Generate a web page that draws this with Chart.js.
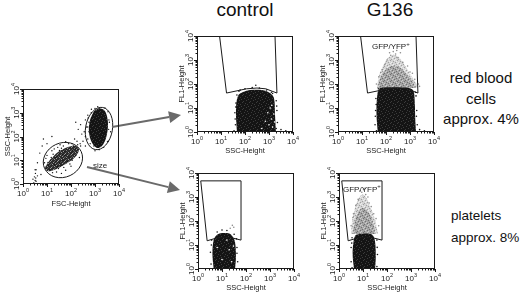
<!DOCTYPE html>
<html>
<head>
<meta charset="utf-8">
<title>flow cytometry panels</title>
<script src="https://cdn.jsdelivr.net/npm/chart.js@4.4.1/dist/chart.umd.min.js"></script>
<style>
  body { margin: 0; width: 520px; height: 293px; position: relative; overflow: hidden; background: #fff;
         font-family: 'Liberation Sans', Arial, sans-serif; color: #111; }
  canvas { position: absolute; }
  .lbl { position: absolute; white-space: nowrap; }
</style>
</head>
<body>
<div class="lbl" style="left:205px;top:0;width:80px;text-align:center;font-size:19px;line-height:19px;">control</div>
<div class="lbl" style="left:350px;top:0;width:80px;text-align:center;font-size:19px;line-height:19px;">G136</div>
<div class="lbl" style="left:436px;top:68px;width:90px;text-align:center;font-size:15px;line-height:20.5px;">red blood<br>cells<br>approx. 4%</div>
<div class="lbl" style="left:451px;top:205px;font-size:13.5px;line-height:22px;">platelets<br>approx. 8%</div>
<script>
const FONT = "'Liberation Sans', Arial, sans-serif";
const decades = [1, 10, 100, 1000, 10000];
const minorSteps = [2, 3, 4, 5, 6, 7, 8, 9];

// ---- left panel: FSC-Height vs SSC-Height ----
const fscRbcCore = [[1480,1580],[2370,1320],[3160,720],[3470,275],[2880,87],[1950,40],[1200,33],[750,54],[560,155],[620,490],[910,1180]];
const fscPltCore = [[13,10],[29,22],[75,36],[161,40],[215,27],[133,12],[51,6.3],[19.5,3.9],[10,3.5],[8.3,5.2]];
const fscEvents = [[7.9,7.9],[10,16],[13,4],[16,25],[20,6.3],[22,13],[25,3.2],[32,20],[35,7.9],[40,32],[50,5],[56,16],
  [63,28],[71,8.9],[79,50],[100,20],[112,10],[126,40],[158,16],[178,63],[200,28],[251,40],[100,5.6],[40,2.8],[14,10],
  [8.9,4.5],[28,35],[45,10],[141,79],[224,13],[9,12],[12,6],[17,3],[30,4.5],[60,3.8],[90,7],[180,22],[240,50],[110,50],
  [35,45],[20,30],[60,60],[150,30],[26,14],[70,22],[45,18],[11,8],[18,18],[24,9],[33,26],[48,40],[85,14],[120,25],
  [190,45],[66,12],[38,6],[15,13],[27,5.5],[95,33],[55,24],
  [316,63],[398,100],[355,158],[501,79],[447,251],[282,126],[251,316],[562,158],[200,200],[631,50],[158,398],[398,40],
  [5,20],[6.3,40],[4,7.9],[5.6,2.5],[7.1,79],[10,50],[16,100],[3.5,4],
  [2.8,1.1],[3.2,1.4],[3,2],[3.3,2.8],[3.2,4],[3.5,1.3],[2.6,1.6],[4,2.2],[2.9,1.05],[3.4,1.8],
  [501,794],[708,1410],[3980,398],[3550,63],[1000,25],[562,398],[4470,158],[398,501],
  [1000,1500],[1300,1800],[2600,1600],[3500,1100],[3800,500],[3700,200],[3300,60],[2300,35],[1500,28],[900,40],
  [650,90],[500,250],[520,600],[700,1000]];
const fscGates = [{x: 1470, y: 217, rx: 0.56, ry: 0.9, rot: 10}, {x: 46, y: 10.2, rx: 0.84, ry: 0.72, rot: -25}];

// ---- gates on FL1 vs SSC ----
const rbcGate = [[8.7,10000],[17,42],[115,63],[316,68],[740,63],[2140,42],[1780,10000],[8.7,10000]];
const pltGate = [[1.3,4700],[2.4,15],[7.5,21],[21,21],[62,16],[62,4700],[1.3,4700]];

// ---- red blood cells, control ----
const ctlRbcCore = [[46,1],[42,8.3],[51,32],[83,46],[161,56],[510,56],[1100,42],[1610,26],[1780,5.1],[1950,1]];
const ctlRbcEdge = [[40,2],[38,6.3],[42,16],[46,35],[63,56],[100,63],[200,71],[398,68],[794,56],[1410,40],[2000,20],
  [2140,7.9],[2240,2.5],[2000,1.4],[3160,1.26],[5010,1.12],[282,89],[35,1.12],[39,3.5],[41,11],[56,50],[1260,45],[2100,12]];
const ctlRbcGaps = [[1000,2],[1260,3.5],[891,6.3],[1410,1.6],[1120,10],[708,2.8],[1580,5.6],[501,1.4],[1700,2.6],[1300,13]];

// ---- red blood cells, G136 ----
const g136RbcCore = [[45,1],[40,6.3],[43,32],[52,63],[79,71],[398,71],[1000,66],[1410,50],[1580,16],[1660,3.2],[1780,1]];
const g136RbcEdge = [[35,2],[37,7.9],[38,25],[48,63],[1780,32],[1910,7.9],[2000,2],[2510,1.26],[3980,1.12],[40,1.12],
  [36,4.5],[39,14],[1700,45],[1850,4.5]];
const g136RbcGfpOuter = [[42,68],[50,200],[71,501],[112,1120],[200,1660],[355,1260],[631,562],[1120,224],[2000,89],[2240,68]];
const g136RbcGfpInner = [[46,68],[56,158],[89,355],[178,562],[355,501],[708,251],[1260,126],[1780,68]];
const g136RbcGfpDots = [[158,1580],[251,1780],[316,1260],[112,1000],[501,794],[71,398],[1000,316],[1580,158],[50,200],
  [794,562],[200,2240],[40,100],[2240,100],[398,2000],[141,2000],[280,2500],[89,630],[1260,280],[2500,80],[60,300]];

// ---- platelets, control ----
const ctlPltCore = [[4.5,1],[4,4],[4.3,13],[5.2,22],[7.9,30],[13,32],[20,30],[28,22],[35,13],[38,3.2],[35,1]];
const ctlPltEdge = [[3.5,1.6],[3.3,5],[3.7,16],[6.3,35],[16,40],[32,28],[42,7.9],[45,2],[10,42],[3.6,10],[40,18],[42,4.5]];
const ctlPltGated = [[22,50],[31,55],[27,66]];
const ctlPltGaps = [[10,2.5],[20,6.3],[6.3,7.9],[25,2],[16,16],[30,9]];

// ---- platelets, G136 ----
const g136PltCore = [[4.2,1],[3.7,4],[4,13],[4.8,25],[7.1,29],[16,30],[26,25],[32,13],[34,3.2],[32,1]];
const g136PltEdge = [[3.2,2],[3.2,7.9],[3.5,20],[38,16],[40,4],[38,1.26],[3.5,1.12],[3.4,12],[39,8]];
const g136PltGfpOuter = [[3.2,29],[3.5,100],[4.5,316],[6.3,794],[9.5,1260],[14,891],[21,355],[32,112],[42,29]];
const g136PltGfpInner = [[3.8,29],[4.5,89],[6.3,224],[10,355],[16,251],[25,100],[33,29]];
const g136PltGfpDots = [[8.9,1580],[13,1260],[6.3,794],[18,562],[4,200],[28,200],[3.2,63],[45,63],[10.5,2000],[5,447],
  [22,398],[35,126],[7.5,1800],[12,2300],[16,1000],[3.8,140]];

const pts = arr => arr.map(([x, y]) => ({x, y}));

// small repeating tiles that give the dot clouds their grain
const scatterA = [[0,1],[3,0],[5,2],[1,4],[4,5],[6,6],[2,3]];
const scatterB = [[1,0],[4,1],[6,3],[0,5],[2,6],[5,4],[3,2]];
function texture(size, base, groups) {
  const t = document.createElement('canvas');
  t.width = t.height = size;
  const g = t.getContext('2d');
  g.fillStyle = base;
  g.fillRect(0, 0, size, size);
  groups.forEach(([color, specks]) => {
    g.fillStyle = color;
    specks.forEach(([i, j]) => g.fillRect(i, j, 1, 1));
  });
  return g.createPattern(t, 'repeat');
}
const BLACK = '#141414';
const GRAY_DOT = '#8c8c8c';
const blackTex = texture(7, BLACK, [['#3c3c3c', scatterA]]);
const pltTex = texture(7, '#2c2c2c', [['#9a9a9a', scatterA], ['#5a5a5a', scatterB]]);
const grayTex = texture(7, '#a4a4a4', [['#707070', scatterA], ['#cccccc', scatterB]]);
const paleTex = texture(7, '#d4d4d4', [['#a0a0a0', scatterA], ['#eeeeee', scatterB]]);

function cloud(data, color, order) {
  return {type: 'line', data: pts(data), fill: 'shape', backgroundColor: color, borderWidth: 0,
          pointRadius: 0, tension: 0.35, order};
}
function dots(data, color, r, order) {
  return {type: 'scatter', data: pts(data), backgroundColor: color, borderWidth: 0, pointRadius: r, order};
}
function gate(data) {
  return {type: 'line', data: pts(data), fill: false, borderColor: '#1a1a1a', borderWidth: 1,
          pointRadius: 0, tension: 0, order: 0};
}

function drawPow(ctx, x, y, exp) {
  ctx.font = '8px ' + FONT;
  const w1 = ctx.measureText('10').width;
  ctx.font = '5.5px ' + FONT;
  const w2 = ctx.measureText(String(exp)).width;
  const start = x - (w1 + w2) / 2;
  ctx.textAlign = 'left';
  ctx.font = '8px ' + FONT;
  ctx.fillText('10', start, y);
  ctx.font = '5.5px ' + FONT;
  ctx.fillText(String(exp), start + w1, y - 4);
}

// frame, log ticks, tick labels and axis titles
const flowFrame = {
  id: 'flowFrame',
  afterDraw(chart, args, o) {
    const {ctx, chartArea: a, scales: {x, y}} = chart;
    ctx.save();
    ctx.strokeStyle = '#1a1a1a';
    ctx.lineWidth = 1;
    ctx.strokeRect(Math.round(a.left) + 0.5, Math.round(a.top) + 0.5, Math.round(a.width) - 1, Math.round(a.height) - 1);
    ctx.beginPath();
    decades.forEach((d, i) => {
      const vals = [[d, 3]];
      if (i < decades.length - 1) minorSteps.forEach(m => vals.push([d * m, 1.5]));
      vals.forEach(([v, len]) => {
        const px = Math.round(x.getPixelForValue(v)) + 0.5;
        ctx.moveTo(px, a.bottom);
        ctx.lineTo(px, a.bottom + len);
        const py = Math.round(y.getPixelForValue(v)) + 0.5;
        ctx.moveTo(a.left, py);
        ctx.lineTo(a.left - len, py);
      });
    });
    ctx.stroke();
    ctx.fillStyle = '#1a1a1a';
    ctx.textBaseline = 'alphabetic';
    decades.forEach((d, i) => {
      drawPow(ctx, x.getPixelForValue(d), a.bottom + 12, i);
      ctx.save();
      ctx.translate(a.left - 4, y.getPixelForValue(d));
      ctx.rotate(-Math.PI / 2);
      drawPow(ctx, 0, 0, i);
      ctx.restore();
    });
    ctx.font = '7.5px ' + FONT;
    ctx.textAlign = 'center';
    ctx.fillText(o.xTitle, (a.left + a.right) / 2, a.bottom + (o.xGap || 21));
    ctx.save();
    ctx.translate(a.left - 13, (a.top + a.bottom) / 2);
    ctx.rotate(-Math.PI / 2);
    ctx.fillText(o.yTitle, 0, 0);
    ctx.restore();
    ctx.restore();
  }
};

// ellipse gates, in-plot labels and the arrows to the gated panels
const flowNotes = {
  id: 'flowNotes',
  afterDatasetsDraw(chart, args, o) {
    const {ctx, scales: {x, y}} = chart;
    ctx.save();
    (o.ellipses || []).forEach(e => {
      const cx = x.getPixelForValue(e.x), cy = y.getPixelForValue(e.y);
      const rx = x.getPixelForValue(e.x * Math.pow(10, e.rx)) - cx;
      const ry = cy - y.getPixelForValue(e.y * Math.pow(10, e.ry));
      ctx.beginPath();
      ctx.ellipse(cx, cy, rx, ry, e.rot * Math.PI / 180, 0, Math.PI * 2);
      ctx.strokeStyle = '#1a1a1a';
      ctx.lineWidth = 1;
      ctx.stroke();
    });
    ctx.fillStyle = '#1a1a1a';
    ctx.textAlign = 'left';
    (o.texts || []).forEach(t => {
      const px = x.getPixelForValue(t.x), py = y.getPixelForValue(t.y);
      ctx.font = '8px ' + FONT;
      ctx.fillText(t.text, px, py);
      if (t.sup) {
        const w = ctx.measureText(t.text).width;
        ctx.font = '6px ' + FONT;
        ctx.fillText(t.sup, px + w, py - 3.5);
      }
    });
    const ox = chart.canvas.offsetLeft, oy = chart.canvas.offsetTop;
    (o.arrows || []).forEach(ar => {
      const x0 = ar.from[0] - ox, y0 = ar.from[1] - oy, x1 = ar.to[0] - ox, y1 = ar.to[1] - oy;
      const ang = Math.atan2(y1 - y0, x1 - x0);
      const hl = 12, hw = 6;
      const bx = x1 - hl * Math.cos(ang), by = y1 - hl * Math.sin(ang);
      ctx.strokeStyle = '#6a6a6a';
      ctx.fillStyle = '#6a6a6a';
      ctx.lineWidth = 2;
      ctx.beginPath();
      ctx.moveTo(x0, y0);
      ctx.lineTo(bx, by);
      ctx.stroke();
      ctx.beginPath();
      ctx.moveTo(x1, y1);
      ctx.lineTo(bx + hw * Math.sin(ang), by - hw * Math.cos(ang));
      ctx.lineTo(bx - hw * Math.sin(ang), by + hw * Math.cos(ang));
      ctx.closePath();
      ctx.fill();
    });
    ctx.restore();
  }
};

Chart.register(flowFrame, flowNotes);

function panel(area, margin, datasets, frame, notes) {
  const [L, T, W, H] = area;
  const [ml, mt, mr, mb] = margin;
  const c = document.createElement('canvas');
  c.width = W + ml + mr;
  c.height = H + mt + mb;
  c.style.left = (L - ml) + 'px';
  c.style.top = (T - mt) + 'px';
  document.body.appendChild(c);
  return new Chart(c, {
    type: 'scatter',
    data: {datasets},
    options: {
      responsive: false,
      animation: false,
      devicePixelRatio: 1,
      events: [],
      layout: {padding: {left: ml, top: mt, right: mr, bottom: mb}},
      scales: {
        x: {type: 'logarithmic', min: 1, max: 10000, display: false},
        y: {type: 'logarithmic', min: 1, max: 10000, display: false}
      },
      plugins: {legend: {display: false}, tooltip: {enabled: false}, flowFrame: frame, flowNotes: notes || {}}
    }
  });
}

const std = [26, 8, 6, 26];

panel([23, 89, 96, 95], [23, 9, 67, 27], [
  dots(fscEvents, BLACK, 0.7, 1),
  cloud(fscRbcCore, blackTex, 3),
  cloud(fscPltCore, pltTex, 4)
], {xTitle: 'FSC-Height', yTitle: 'SSC-Height', xGap: 22}, {
  ellipses: fscGates,
  texts: [{text: 'size', x: 830, y: 4.7}],
  arrows: [{from: [112, 127], to: [181, 115]}, {from: [87, 167], to: [180, 190]}]
});

panel([197, 36, 96, 96], std, [
  gate(rbcGate),
  dots(ctlRbcGaps, '#ffffff', 0.8, 1),
  dots(ctlRbcEdge, BLACK, 0.8, 2),
  cloud(ctlRbcCore, blackTex, 3)
], {xTitle: 'SSC-Height', yTitle: 'FL1-Height'});

panel([338, 36, 96, 96], std, [
  gate(rbcGate),
  dots(g136RbcEdge, BLACK, 0.8, 1),
  cloud(g136RbcCore, blackTex, 3),
  dots(g136RbcGfpDots, GRAY_DOT, 0.8, 2),
  cloud(g136RbcGfpInner, grayTex, 4),
  cloud(g136RbcGfpOuter, paleTex, 5)
], {xTitle: 'SSC-Height', yTitle: 'FL1-Height'}, {
  texts: [{text: 'GFP/YFP', sup: '+', x: 26, y: 2750}]
});

panel([198, 173, 96, 96], std, [
  gate(pltGate),
  dots(ctlPltGaps, '#ffffff', 0.8, 1),
  dots(ctlPltEdge, BLACK, 0.8, 2),
  dots(ctlPltGated, GRAY_DOT, 0.8, 2),
  cloud(ctlPltCore, blackTex, 3)
], {xTitle: 'SSC-Height', yTitle: 'FL1-Height'});

panel([339, 173, 96, 96], std, [
  gate(pltGate),
  dots(g136PltEdge, BLACK, 0.8, 1),
  cloud(g136PltCore, blackTex, 3),
  dots(g136PltGfpDots, GRAY_DOT, 0.8, 2),
  cloud(g136PltGfpInner, grayTex, 4),
  cloud(g136PltGfpOuter, paleTex, 5)
], {xTitle: 'SSC-Height', yTitle: 'FL1-Height'}, {
  texts: [{text: 'GFP/YFP', sup: '+', x: 1.47, y: 1620}]
});
</script>
</body>
</html>
